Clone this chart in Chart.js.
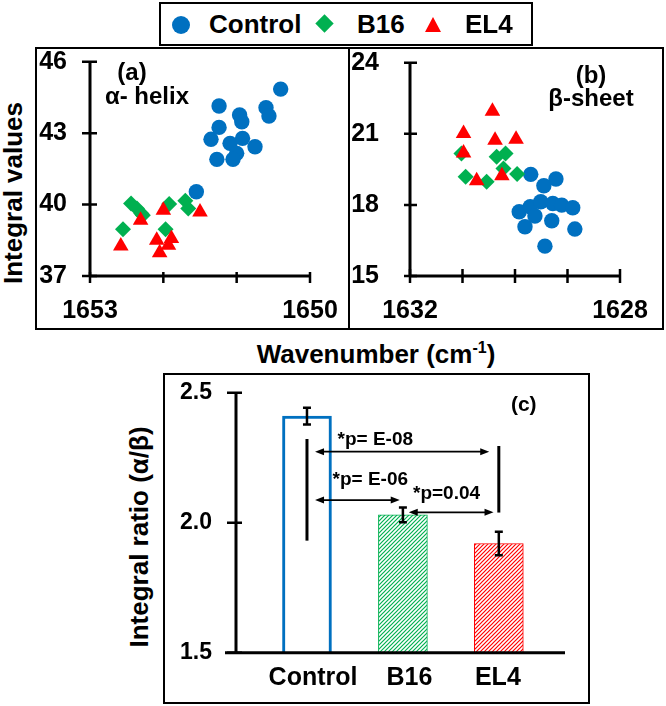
<!DOCTYPE html>
<html>
<head>
<meta charset="utf-8">
<script src="https://cdn.jsdelivr.net/npm/chart.js"></script>
<style>
  html, body { margin: 0; padding: 0; background: #fff; }
  body { position: relative; width: 666px; height: 706px; overflow: hidden;
         font-family: "Liberation Sans", Arial, sans-serif; font-weight: bold; color: #000; }
  .frame { position: absolute; border: 2px solid #000; box-sizing: border-box; }
  canvas { position: absolute; }
  .t { position: absolute; white-space: nowrap; transform: translate(-50%, -50%); line-height: 1; font-size: 24px; }
  .big { font-size: 26px; }
  .rot { transform: translate(-50%, -50%) rotate(-90deg); }
  .lg { position: absolute; font-size: 26px; line-height: 1; transform: translateY(-50%); white-space: nowrap; }
  .mk { position: absolute; }
  sup { font-size: 16px; vertical-align: 0; position: relative; top: -10px; }
</style>
</head>
<body>
<div class="frame" style="left:159px;top:2px;width:374px;height:44px"></div>
<div class="frame" style="left:35px;top:47px;width:315px;height:283px"></div>
<div class="frame" style="left:348px;top:47px;width:316px;height:283px"></div>
<div class="frame" style="left:163px;top:373px;width:427px;height:331px"></div>

<canvas id="helix" width="314" height="283" style="left:35px;top:47px"></canvas>
<canvas id="sheet" width="316" height="283" style="left:348px;top:47px"></canvas>
<canvas id="ratio" width="427" height="331" style="left:163px;top:373px"></canvas>

<!-- legend -->
<div class="mk" style="left:172px;top:16px;width:18px;height:18px;border-radius:50%;background:#0070C0"></div>
<div class="lg" style="left:209px;top:24px">Control</div>
<div class="mk" style="left:317.5px;top:17px;width:13px;height:13px;background:#00B050;transform:rotate(45deg)"></div>
<div class="lg" style="left:357px;top:24px">B16</div>
<div class="mk" style="left:425px;top:17px;width:0;height:0;border-left:8.5px solid transparent;border-right:8.5px solid transparent;border-bottom:15px solid #FF0000"></div>
<div class="lg" style="left:465px;top:24px">EL4</div>

<div class="t big rot" style="left:13px;top:193px">Integral values</div>
<div class="t big" style="left:376px;top:354px">Wavenumber (cm<sup>-1</sup>)</div>
<div class="t big rot" style="left:139px;top:537px">Integral ratio (α/β)</div>
<div class="t" style="left:132px;top:72px">(a)</div>
<div class="t" style="left:147px;top:96px">α- helix</div>
<div class="t" style="left:591px;top:75px">(b)</div>
<div class="t" style="left:591px;top:98px">β-sheet</div>

<script>
// colours used by Excel in the original figure
const blue = '#0070C0';
const green = '#00B050';
const red = '#FF0000';

const groups = ['Control', 'B16', 'EL4'];

// (a) alpha-helix band
const helixControlX = [1650.40, 1651.24, 1650.96, 1650.60, 1650.56, 1650.93, 1651.24, 1651.35, 1651.09, 1650.92, 1650.75, 1651.00, 1651.27, 1651.05, 1651.55];
const helixControlY = [44.85, 44.14, 43.76, 44.07, 43.72, 43.48, 43.24, 42.74, 42.57, 42.78, 42.43, 42.15, 41.90, 41.90, 40.54];
const helixB16X = [1652.44, 1652.36, 1652.30, 1652.55, 1651.92, 1651.70, 1651.66, 1651.97, 1652.28];
const helixB16Y = [40.05, 39.84, 39.63, 38.96, 40.02, 40.16, 39.84, 38.96, 39.55];
const helixEL4X = [1652.58, 1652.31, 1652.00, 1651.50, 1652.09, 1652.05, 1651.89, 1651.93];
const helixEL4Y = [38.26, 39.34, 39.76, 39.69, 38.50, 37.98, 38.57, 38.29];
const helixXTicks = [1650, 1651, 1652, 1653];
const helixYTicks = [37, 40, 43, 46];

// (b) beta-sheet band
const sheetControlX = [1629.70, 1629.22, 1629.45, 1629.92, 1629.71, 1629.51, 1629.28, 1629.11, 1628.90, 1629.62, 1629.81, 1629.30, 1628.86, 1629.43];
const sheetControlY = [19.29, 19.09, 18.81, 17.71, 17.92, 18.13, 18.06, 17.99, 17.88, 17.53, 17.08, 17.33, 16.98, 16.26];
const sheetB16X = [1631.02, 1630.94, 1630.54, 1630.35, 1630.18, 1630.22, 1629.96];
const sheetB16Y = [20.17, 19.19, 18.98, 20.03, 20.17, 19.54, 19.30];
const sheetEL4X = [1630.98, 1630.98, 1630.43, 1630.38, 1629.98, 1630.73, 1630.25];
const sheetEL4Y = [21.01, 20.19, 21.95, 20.73, 20.77, 19.02, 19.23];
const sheetXTicks = [1628, 1629, 1630, 1631, 1632];
const sheetYTicks = [15, 18, 21, 24];

// (c) integral ratio alpha/beta
const ratioValues = [2.41, 2.03, 1.92];
const ratioErrors = [0.032, 0.028, 0.045];
const ratioYTicks = [1.5, 2.0, 2.5];
const ratioLabelX = [1.063, 2.068, 2.99];   // category labels sit a little off the bar centres
// significance brackets: [x, yFrom, yTo] and arrows [xFrom, xTo, y]
const sigLines = [[1, 1.931, 2.322], [3, 2.039, 2.295]];
const sigArrows = [[1.084, 2.90, 2.273], [1.084, 1.967, 2.087], [2.061, 2.945, 2.040]];
const sigLabels = [['*p= E-08', 1.712, 2.318], ['*p= E-06', 1.66, 2.164], ['*p=0.04', 2.455, 2.110]];

Chart.defaults.font.family = '"Liberation Sans", Arial, sans-serif';
Chart.defaults.font.weight = 'bold';
Chart.defaults.color = '#000';
Chart.defaults.animation = false;

function pts(xs, ys) {
  return xs.map((x, i) => ({ x: x, y: ys[i] }));
}

function scatterSets(cx, cy, bx, by, ex, ey) {
  return [
    { label: 'Control', data: pts(cx, cy), pointStyle: 'circle', pointRadius: 7.7, pointHoverRadius: 7.7,
      pointBackgroundColor: blue, pointBorderWidth: 0, order: 3 },
    { label: 'B16', data: pts(bx, by), pointStyle: 'rectRot', pointRadius: 8, pointHoverRadius: 8,
      pointBackgroundColor: green, pointBorderWidth: 0, order: 2 },
    { label: 'EL4', data: pts(ex, ey), pointStyle: 'triangle', pointRadius: 9, pointHoverRadius: 9,
      pointBackgroundColor: red, pointBorderWidth: 0, order: 1 }
  ];
}

// keep the axis boxes at a fixed size so the plot areas line up with the frames
function fixedScale(size, isX) {
  return s => {
    if (isX) s.height = size; else s.width = size;
    s.paddingLeft = 0; s.paddingRight = 0; s.paddingTop = 0; s.paddingBottom = 0;
  };
}

// axis lines + ticks that cross the axis (Excel style)
const axesPlugin = {
  id: 'axes',
  afterDatasetsDraw(chart, args, o) {
    const ctx = chart.ctx, a = chart.chartArea;
    const xs = chart.scales.x, ys = chart.scales.y;
    ctx.save();
    ctx.strokeStyle = '#000';
    ctx.lineWidth = 3;
    ctx.beginPath();
    ctx.moveTo(a.left, a.top);
    ctx.lineTo(a.left, a.bottom);
    ctx.moveTo(a.left - (o.xStart || 0), a.bottom);
    ctx.lineTo(a.right, a.bottom);
    ctx.stroke();
    ctx.lineWidth = 2.5;
    ctx.beginPath();
    (o.yTicks || []).forEach(v => {
      const y = ys.getPixelForValue(v);
      ctx.moveTo(a.left - o.yOut, y);
      ctx.lineTo(a.left + o.yIn, y);
    });
    (o.xTicks || []).forEach(v => {
      const x = xs.getPixelForValue(v);
      ctx.moveTo(x, a.bottom - o.xIn);
      ctx.lineTo(x, a.bottom + o.xOut);
    });
    ctx.stroke();
    ctx.restore();
  }
};

function scatterChart(id, sets, xTicks, yTicks, pad, yWidth, yPad, ticks) {
  const xMin = Math.min(...xTicks), xMax = Math.max(...xTicks);
  return new Chart(document.getElementById(id), {
    type: 'scatter',
    data: { datasets: sets },
    options: {
      responsive: false,
      events: [],
      layout: { padding: pad },
      plugins: {
        legend: { display: false },
        tooltip: { enabled: false },
        axes: Object.assign({ xTicks: xTicks, yTicks: yTicks }, ticks)
      },
      scales: {
        x: {
          type: 'linear', reverse: true, min: xMin, max: xMax,
          afterBuildTicks: s => { s.ticks = xTicks.map(v => ({ value: v })); },
          afterFit: fixedScale(54, true),
          grid: { display: false, drawTicks: false },
          border: { display: false },
          ticks: { autoSkip: false, maxRotation: 0, padding: 20, font: { size: 25 },
                   callback: v => (v === xMin || v === xMax) ? String(v) : '' }
        },
        y: {
          min: yTicks[0], max: yTicks[yTicks.length - 1],
          afterBuildTicks: s => { s.ticks = yTicks.map(v => ({ value: v })); },
          afterFit: fixedScale(yWidth, false),
          grid: { display: false, drawTicks: false },
          border: { display: false },
          ticks: { autoSkip: false, padding: yPad, font: { size: 25 }, callback: v => String(v) }
        }
      }
    },
    plugins: [axesPlugin]
  });
}

scatterChart('helix',
  scatterSets(helixControlX, helixControlY, helixB16X, helixB16Y, helixEL4X, helixEL4Y),
  helixXTicks, helixYTicks,
  { top: 14.7, right: 39, left: 0, bottom: 0 }, 55, 23,
  { yOut: 8, yIn: 7, xOut: 7, xIn: 4 });

scatterChart('sheet',
  scatterSets(sheetControlX, sheetControlY, sheetB16X, sheetB16Y, sheetEL4X, sheetEL4Y),
  sheetXTicks, sheetYTicks,
  { top: 15.7, right: 44, left: 0, bottom: 0 }, 62, 31,
  { yOut: 6, yIn: 7, xOut: 7, xIn: 7 });

// diagonal hatch fill for the B16 / EL4 bars
function hatch(color) {
  const c = document.createElement('canvas');
  c.width = 4; c.height = 4;
  const g = c.getContext('2d');
  g.fillStyle = '#fff';
  g.fillRect(0, 0, 4, 4);
  g.strokeStyle = color;
  g.lineWidth = 1.2;
  g.beginPath();
  g.moveTo(-1, 5); g.lineTo(5, -1);
  g.moveTo(-1, 1); g.lineTo(1, -1);
  g.moveTo(3, 5); g.lineTo(5, 3);
  g.stroke();
  return g.createPattern(c, 'repeat');
}

function arrow(ctx, x1, x2, y) {
  const L = 9, H = 3.5;
  ctx.beginPath();
  ctx.moveTo(x1 + L - 1, y); ctx.lineTo(x2 - L + 1, y);
  ctx.stroke();
  ctx.beginPath();
  ctx.moveTo(x1, y); ctx.lineTo(x1 + L, y - H); ctx.lineTo(x1 + L, y + H); ctx.closePath();
  ctx.moveTo(x2, y); ctx.lineTo(x2 - L, y - H); ctx.lineTo(x2 - L, y + H); ctx.closePath();
  ctx.fill();
}

const ratioMarks = {
  id: 'ratioMarks',
  afterDatasetsDraw(chart) {
    const ctx = chart.ctx, xs = chart.scales.x, ys = chart.scales.y;
    ctx.save();
    ctx.strokeStyle = '#000';
    ctx.fillStyle = '#000';

    // error bars
    ctx.lineWidth = 2.5;
    ratioValues.forEach((v, i) => {
      const x = xs.getPixelForValue(i + 1);
      const t = ys.getPixelForValue(v + ratioErrors[i]);
      const b = ys.getPixelForValue(v - ratioErrors[i]);
      ctx.beginPath();
      ctx.moveTo(x, t); ctx.lineTo(x, b);
      ctx.moveTo(x - 4, t); ctx.lineTo(x + 4, t);
      ctx.moveTo(x - 4, b); ctx.lineTo(x + 4, b);
      ctx.stroke();
    });

    ctx.lineWidth = 3;
    sigLines.forEach(l => {
      const x = xs.getPixelForValue(l[0]);
      ctx.beginPath();
      ctx.moveTo(x, ys.getPixelForValue(l[1]));
      ctx.lineTo(x, ys.getPixelForValue(l[2]));
      ctx.stroke();
    });

    ctx.lineWidth = 1.8;
    sigArrows.forEach(a => arrow(ctx, xs.getPixelForValue(a[0]), xs.getPixelForValue(a[1]), ys.getPixelForValue(a[2])));

    ctx.textAlign = 'center';
    ctx.textBaseline = 'middle';
    ctx.font = 'bold 19px "Liberation Sans", Arial, sans-serif';
    sigLabels.forEach(s => ctx.fillText(s[0], xs.getPixelForValue(s[1]), ys.getPixelForValue(s[2])));
    ctx.font = 'bold 21px "Liberation Sans", Arial, sans-serif';
    ctx.fillText('(c)', xs.getPixelForValue(3.26), ys.getPixelForValue(2.453));
    ctx.restore();
  }
};

new Chart(document.getElementById('ratio'), {
  type: 'bar',
  data: {
    datasets: [{
      data: ratioValues.map((v, i) => ({ x: i + 1, y: v })),
      backgroundColor: ['#fff', hatch(green), hatch(red)],
      borderColor: [blue, green, red],
      borderWidth: [3, 1, 1],
      barThickness: 49
    }]
  },
  options: {
    responsive: false,
    events: [],
    layout: { padding: { top: 19.7, right: 25, left: 0, bottom: 0 } },
    plugins: {
      legend: { display: false },
      tooltip: { enabled: false },
      axes: { xTicks: [], yTicks: ratioYTicks, yOut: 9, yIn: 6, xStart: 11 }
    },
    scales: {
      x: {
        type: 'linear', min: 0.26, max: 3.69, offset: false,
        afterBuildTicks: s => { s.ticks = ratioLabelX.map(v => ({ value: v })); },
        afterFit: fixedScale(51.3, true),
        grid: { display: false, drawTicks: false },
        border: { display: false },
        ticks: { autoSkip: false, maxRotation: 0, padding: 10, font: { size: 25 },
                 callback: (v, i) => groups[i] || '' }
      },
      y: {
        min: 1.5, max: 2.5,
        afterBuildTicks: s => { s.ticks = ratioYTicks.map(v => ({ value: v })); },
        afterFit: fixedScale(73, false),
        grid: { display: false, drawTicks: false },
        border: { display: false },
        ticks: { autoSkip: false, padding: 24, font: { size: 23 }, callback: v => v.toFixed(1) }
      }
    }
  },
  plugins: [axesPlugin, ratioMarks]
});
</script>
</body>
</html>
